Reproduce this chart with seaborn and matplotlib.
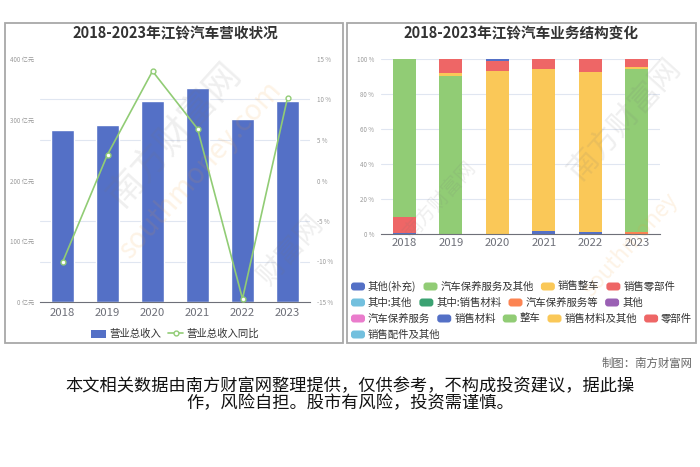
import numpy as np
import matplotlib
matplotlib.use("Agg")
import matplotlib.pyplot as plt
import matplotlib.transforms as mtransforms
from matplotlib.patches import Rectangle, FancyBboxPatch, Patch
from matplotlib.lines import Line2D
from matplotlib.ticker import FuncFormatter
import seaborn as sns

# ---- data ----
years = ["2018", "2019", "2020", "2021", "2022", "2023"]
revenue = [282.5, 291.6, 331.0, 352.2, 300.7, 331.5]      # 亿元
revenue_yoy = [-10.1, 3.2, 13.5, 6.4, -14.6, 10.2]        # %

# 业务结构 (占比 %)
qita_buchong = [0.8, 0, 0, 1.7, 1.5, 0]          # 其他(补充)
baoyang_ji_qita = [0, 0, 0, 0, 0, 0]             # 汽车保养服务及其他
xiaoshou_zhengche = [0, 0, 93.1, 92.4, 90.9, 0]  # 销售整车
xiaoshou_lingbujian = [9.2, 0, 5.9, 5.9, 7.6, 0] # 销售零部件
qizhong_qita = [0, 0, 0, 0, 0, 0]                # 其中:其他
qizhong_cailiao = [0, 0, 0, 0, 0, 0]             # 其中:销售材料
baoyang_deng = [0, 0, 0, 0, 0, 1.3]              # 汽车保养服务等
qita = [0, 0, 0, 0, 0, 0]                        # 其他
baoyang = [0, 0, 0, 0, 0, 0]                     # 汽车保养服务
xiaoshou_cailiao = [0, 0, 1.0, 0, 0, 0]          # 销售材料
zhengche = [90.0, 90.5, 0, 0, 0, 92.8]           # 整车
cailiao_ji_qita = [0, 1.7, 0, 0, 0, 1.1]         # 销售材料及其他
lingbujian = [0, 7.8, 0, 0, 0, 4.8]              # 零部件
peijian_ji_qita = [0, 0, 0, 0, 0, 0]             # 销售配件及其他

biz_names = ["其他(补充)", "汽车保养服务及其他", "销售整车", "销售零部件",
             "其中:其他", "其中:销售材料", "汽车保养服务等", "其他",
             "汽车保养服务", "销售材料", "整车", "销售材料及其他", "零部件",
             "销售配件及其他"]
biz_values = [qita_buchong, baoyang_ji_qita, xiaoshou_zhengche, xiaoshou_lingbujian,
              qizhong_qita, qizhong_cailiao, baoyang_deng, qita, baoyang,
              xiaoshou_cailiao, zhengche, cailiao_ji_qita, lingbujian, peijian_ji_qita]

palette = ['#5470c6', '#91cc75', '#fac858', '#ee6666', '#73c0de',
           '#3ba272', '#fc8452', '#9a60b4', '#ea7ccc']
BLUE, GREEN = palette[0], palette[1]
AXIS_C = '#6e7079'
GRID_C = '#e0e6f1'

sns.set_style("white")
plt.rcParams['font.family'] = ['Noto Sans CJK SC', 'DejaVu Sans']
plt.rcParams['axes.unicode_minus'] = False

W, H = 700, 467
fig = plt.figure(figsize=(W / 100, H / 100), dpi=100)
px = mtransforms.Affine2D().scale(1, -1).translate(0, H)   # pixel coords, top-left origin


def fbox(x0, y0, x1, y1):
    return [x0 / W, 1 - y1 / H, (x1 - x0) / W, (y1 - y0) / H]


# panel frames
for (x0, y0, x1, y1) in [(5, 23, 343, 343), (347, 23, 696, 343)]:
    fig.add_artist(Rectangle((x0, y0), x1 - x0, y1 - y0, transform=px,
                             fill=False, ec='#a8a8a8', lw=1.3, zorder=0))

# ---------------- left: revenue ----------------
ax = fig.add_axes(fbox(40, 59, 310, 302))
sns.barplot(x=years, y=revenue, color=BLUE, saturation=1, width=0.52, ax=ax)
ax.set_xlim(-0.5, 5.5)
ax.set_ylim(0, 400)
ax.set_yticks([0, 100, 200, 300, 400])
ax.yaxis.set_major_formatter(FuncFormatter(lambda v, p: f"{v:.0f} 亿元"))
ax.set_yticks(np.linspace(0, 400, 7), minor=True)
ax.grid(which='minor', axis='y', color=GRID_C, lw=0.8)
ax.set_axisbelow(True)
ax.tick_params(axis='y', which='both', length=0, labelsize=4.5, labelcolor='#999999', pad=4)
ax.set_xticks(np.arange(-0.5, 6, 1), minor=True)
ax.tick_params(axis='x', which='major', length=0, pad=4, labelsize=8.2, labelcolor=AXIS_C)
ax.tick_params(axis='x', which='minor', length=3, color=AXIS_C, width=0.8)
ax.set_xlabel("")
ax.set_ylabel("")
for s in ['top', 'right', 'left']:
    ax.spines[s].set_visible(False)
ax.spines['bottom'].set_color(AXIS_C)
ax.spines['bottom'].set_linewidth(0.8)

ax2 = ax.twinx()
sns.lineplot(x=np.arange(len(years)), y=revenue_yoy, ax=ax2, color=GREEN, lw=1.2,
             marker='o', markersize=3.5, markerfacecolor='white',
             markeredgecolor=GREEN, markeredgewidth=1)
ax2.set_xlim(-0.5, 5.5)
ax2.set_ylim(-15, 15)
ax2.set_yticks(np.arange(-15, 16, 5))
ax2.yaxis.set_major_formatter(FuncFormatter(lambda v, p: f"{v:.0f} %"))
ax2.tick_params(axis='y', length=0, labelsize=4.5, labelcolor='#999999', pad=5)
ax2.set_ylabel("")
for s in ax2.spines.values():
    s.set_visible(False)

fig.text(175, 33, "2018-2023年江铃汽车营收状况", transform=px, ha='center', va='center',
         fontsize=10.5, fontweight='bold', color='#333333')

handles = [Patch(facecolor=BLUE, edgecolor='none'),
           Line2D([], [], color=GREEN, lw=1.2, marker='o', markersize=3.5,
                  markerfacecolor='white', markeredgecolor=GREEN)]
fig.legend(handles, ["营业总收入", "营业总收入同比"], loc='center',
           bbox_to_anchor=(175 / W, 1 - 334 / H), ncol=2, frameon=False,
           fontsize=7.5, handlelength=1.4, handleheight=0.8, handletextpad=0.3,
           columnspacing=0.7, labelcolor='#333333')

# ---------------- right: business structure ----------------
ax3 = fig.add_axes(fbox(381, 59, 660, 234.3))
xpos = np.arange(len(years))
bottom = np.zeros(len(years))
for i, vals in enumerate(biz_values):
    vals = np.array(vals, dtype=float)
    ax3.bar(xpos, vals, bottom=bottom, width=0.5, color=palette[i % len(palette)],
            linewidth=0, zorder=2)
    bottom += vals
ax3.set_xlim(-0.5, 5.5)
ax3.set_ylim(0, 100)
ax3.set_xticks(xpos)
ax3.set_xticklabels(years)
ax3.set_yticks(np.arange(0, 101, 20))
ax3.yaxis.set_major_formatter(FuncFormatter(lambda v, p: f"{v:.0f} %"))
ax3.grid(axis='y', color=GRID_C, lw=0.8)
ax3.set_axisbelow(True)
ax3.tick_params(axis='y', length=0, labelsize=4.5, labelcolor='#999999', pad=5)
ax3.set_xticks(np.arange(-0.5, 6, 1), minor=True)
ax3.tick_params(axis='x', which='major', length=0, pad=3, labelsize=8.2, labelcolor=AXIS_C)
ax3.tick_params(axis='x', which='minor', length=3, color=AXIS_C, width=0.8)
for s in ['top', 'right', 'left']:
    ax3.spines[s].set_visible(False)
ax3.spines['bottom'].set_color(AXIS_C)
ax3.spines['bottom'].set_linewidth(0.8)

fig.text(521, 33, "2018-2023年江铃汽车业务结构变化", transform=px, ha='center', va='center',
         fontsize=10.5, fontweight='bold', color='#333333')

# flowing legend like the original
renderer = fig.canvas.get_renderer()
lx, ly = 351, 286.5
for i, name in enumerate(biz_names):
    t = fig.text(lx + 17, ly, name, transform=px, ha='left', va='center',
                 fontsize=7.5, color='#333333')
    w = t.get_window_extent(renderer).width
    if lx + 17 + w > 697:
        lx, ly = 351, ly + 16
        t.set_position((lx + 17, ly))
    fig.add_artist(FancyBboxPatch((lx, ly - 4), 14, 8, transform=px,
                                  boxstyle="round,pad=0,rounding_size=3",
                                  fc=palette[i % len(palette)], ec='none'))
    lx = lx + 17 + w + 7

# faint watermarks
wm = dict(transform=px, ha='center', va='center', rotation=48, alpha=0.12, zorder=10)
fig.text(175, 135, "南方财富网", fontsize=26, color='#777777', **wm)
fig.text(200, 170, "southmoney.com", fontsize=20, color='#f39a2c', style='italic', **wm)
fig.text(290, 250, "财富网", fontsize=20, color='#777777', **wm)
fig.text(625, 120, "南方财富网", fontsize=22, color='#777777', **wm)
fig.text(630, 245, "southmoney", fontsize=16, color='#f39a2c', style='italic', **wm)
fig.text(440, 200, "南方财富网", fontsize=14, color='#777777', **wm)

# footer
fig.text(693, 363, "制图：南方财富网", transform=px, ha='right', va='center',
         fontsize=8.2, color='#666666')
fig.text(350, 386.5, "本文相关数据由南方财富网整理提供，仅供参考，不构成投资建议，据此操",
         transform=px, ha='center', va='center', fontsize=12.4, color='#111111')
fig.text(350, 403.5, "作，风险自担。股市有风险，投资需谨慎。",
         transform=px, ha='center', va='center', fontsize=12.4, color='#111111')

fig.savefig("out.png", dpi=100, facecolor='white')
